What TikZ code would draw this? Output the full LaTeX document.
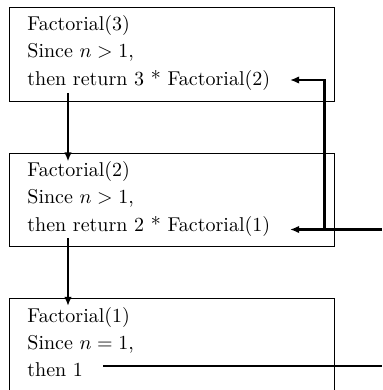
\documentclass[tikz,border=0pt]{standalone}
\usetikzlibrary{arrows.meta}
\begin{document}
\begin{tikzpicture}[x=0.5pt,y=-0.5pt,
  box/.style={draw,line width=0.45pt,minimum width=162.5pt,minimum height=46.5pt,inner sep=0pt,anchor=north west},
  txt/.style={anchor=base west,inner sep=0pt,font=\fontsize{10}{12}\selectfont},
  arr/.style={line width=1.1pt,-{Latex[length=4.6pt,width=3.8pt]}},
  ln/.style={line width=1.1pt}]
\useasboundingbox (0,0) rectangle (382,390);
\clip (0,0) rectangle (382,390);
% boxes
\node[box] (b1) at (8.5,7.5) {};
\node[box] (b2) at (8.5,152.5) {};
\node[box,minimum height=52pt] (b3) at (8.5,297.5) {};
% texts
\node[txt] (t1a) at (27,31) {Factorial(3)};
\node[txt] (t1b) at (27,58) {Since $n > 1$,};
\node[txt] (t1c) at (27,85.5) {then return 3 * Factorial(2)};
\node[txt] (t2a) at (27,176) {Factorial(2)};
\node[txt] (t2b) at (27,203) {Since $n > 1$,};
\node[txt] (t2c) at (27,231) {then return 2 * Factorial(1)};
\node[txt] (t3a) at (27,322) {Factorial(1)};
\node[txt] (t3b) at (27,349) {Since $n = 1$,};
\node[txt] (t3c) at (27,376) {then 1};
% connector end points
\coordinate (d1s) at (68,93);
\coordinate (d1e) at (68,161.5);
\coordinate (d2s) at (68,238);
\coordinate (d2e) at (68,306);
\coordinate (r1) at (290,80);
\coordinate (r2) at (290,229.5);
\coordinate (j2) at (324.5,229.5);
\coordinate (e2) at (382,229.5);
\coordinate (s3) at (103,366);
\coordinate (e3) at (382,366);
% connectors
\draw[arr] (d1s) -- (d1e);
\draw[arr] (d2s) -- (d2e);
\draw[arr] (e2) -- (r2);
\draw[arr] (j2) |- (r1);
\draw[ln] (s3) -- (e3);
\end{tikzpicture}
\end{document}
